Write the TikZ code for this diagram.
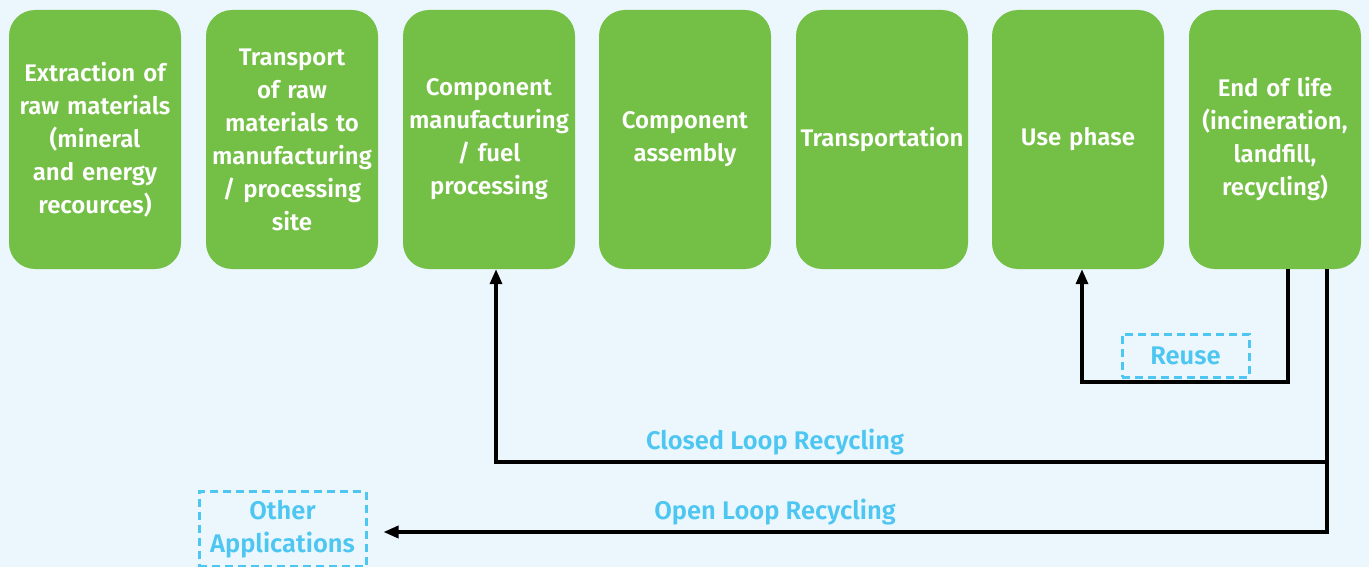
\documentclass[tikz,border=0pt]{standalone}
\usepackage{fontspec}
\setmainfont{Fira Sans}[BoldFont={Fira Sans SemiBold}]
\usetikzlibrary{arrows.meta}
\definecolor{bg}{RGB}{236,247,253}
\definecolor{grn}{RGB}{116,191,69}
\definecolor{cyn}{RGB}{77,198,242}
\tikzset{
  stage/.style={fill=grn, rounded corners=26pt, minimum width=172pt, minimum height=259pt,
    text=white, align=center, text width=170pt, inner sep=0pt,
    font=\bfseries\fontsize{24pt}{33pt}\selectfont},
  flow/.style={line width=3.4pt, black},
  tip/.style={-{Triangle[length=15pt,width=12pt]}},
  dashbox/.style={draw=cyn, dashed, dash pattern=on 8pt off 5pt, line width=3pt, text=cyn,
    align=center, font=\bfseries\fontsize{25.5pt}{33pt}\selectfont, inner sep=0pt},
  lbl/.style={text=cyn, font=\bfseries\fontsize{25.5pt}{28pt}\selectfont}
}
\begin{document}
\begin{tikzpicture}[x=1pt,y=1pt]
\fill[bg] (0,0) rectangle (1369,-567);
\useasboundingbox (0,0) rectangle (1369,-567);
\node[stage] (s1) at (95,-139.5) {Extraction of\\raw materials\\(mineral\\and energy\\recources)};
\node[stage] (s2) at (292,-139.5) {Transport\\of raw\\materials to\\manufacturing\\/ processing\\site};
\node[stage] (s3) at (489,-139.5) {Component\\manufacturing\\/ fuel\\processing};
\node[stage] (s4) at (685,-139.5) {Component\\assembly};
\node[stage] (s5) at (882,-139.5) {Transportation};
\node[stage] (s6) at (1078,-139.5) {Use phase};
\node[stage] (s7) at (1275,-139.5) {End of life\\(incineration,\\landfill,\\recycling)};
\node[dashbox, minimum width=127pt, minimum height=43pt] (reuse) at (1185.5,-355.5) {Reuse};
\node[dashbox, minimum width=167pt, minimum height=75pt] (other) at (282.5,-529) {Other\\Applications};
\node[lbl] (cl) at (775,-442) {Closed Loop Recycling};
\node[lbl] (ol) at (775,-512) {Open Loop Recycling};
\coordinate (r1) at (1288,-382);
\coordinate (r2) at (1082,-382);
\coordinate (c1) at (1327,-462);
\coordinate (c2) at (496,-462);
\coordinate (o1) at (1327,-532);
% Reuse loop
\draw[flow, tip] (s7.south -| r1) -- (r1) -- (r2) -- (s6.south -| r2);
% Closed loop
\draw[flow, tip] (s7.south -| c1) -- (c1) -- (c2) -- (s3.south -| c2);
% Open loop
\draw[flow, tip] (c1) -- (o1) -- ([xshift=16pt]other.east |- o1);
\end{tikzpicture}
\end{document}
